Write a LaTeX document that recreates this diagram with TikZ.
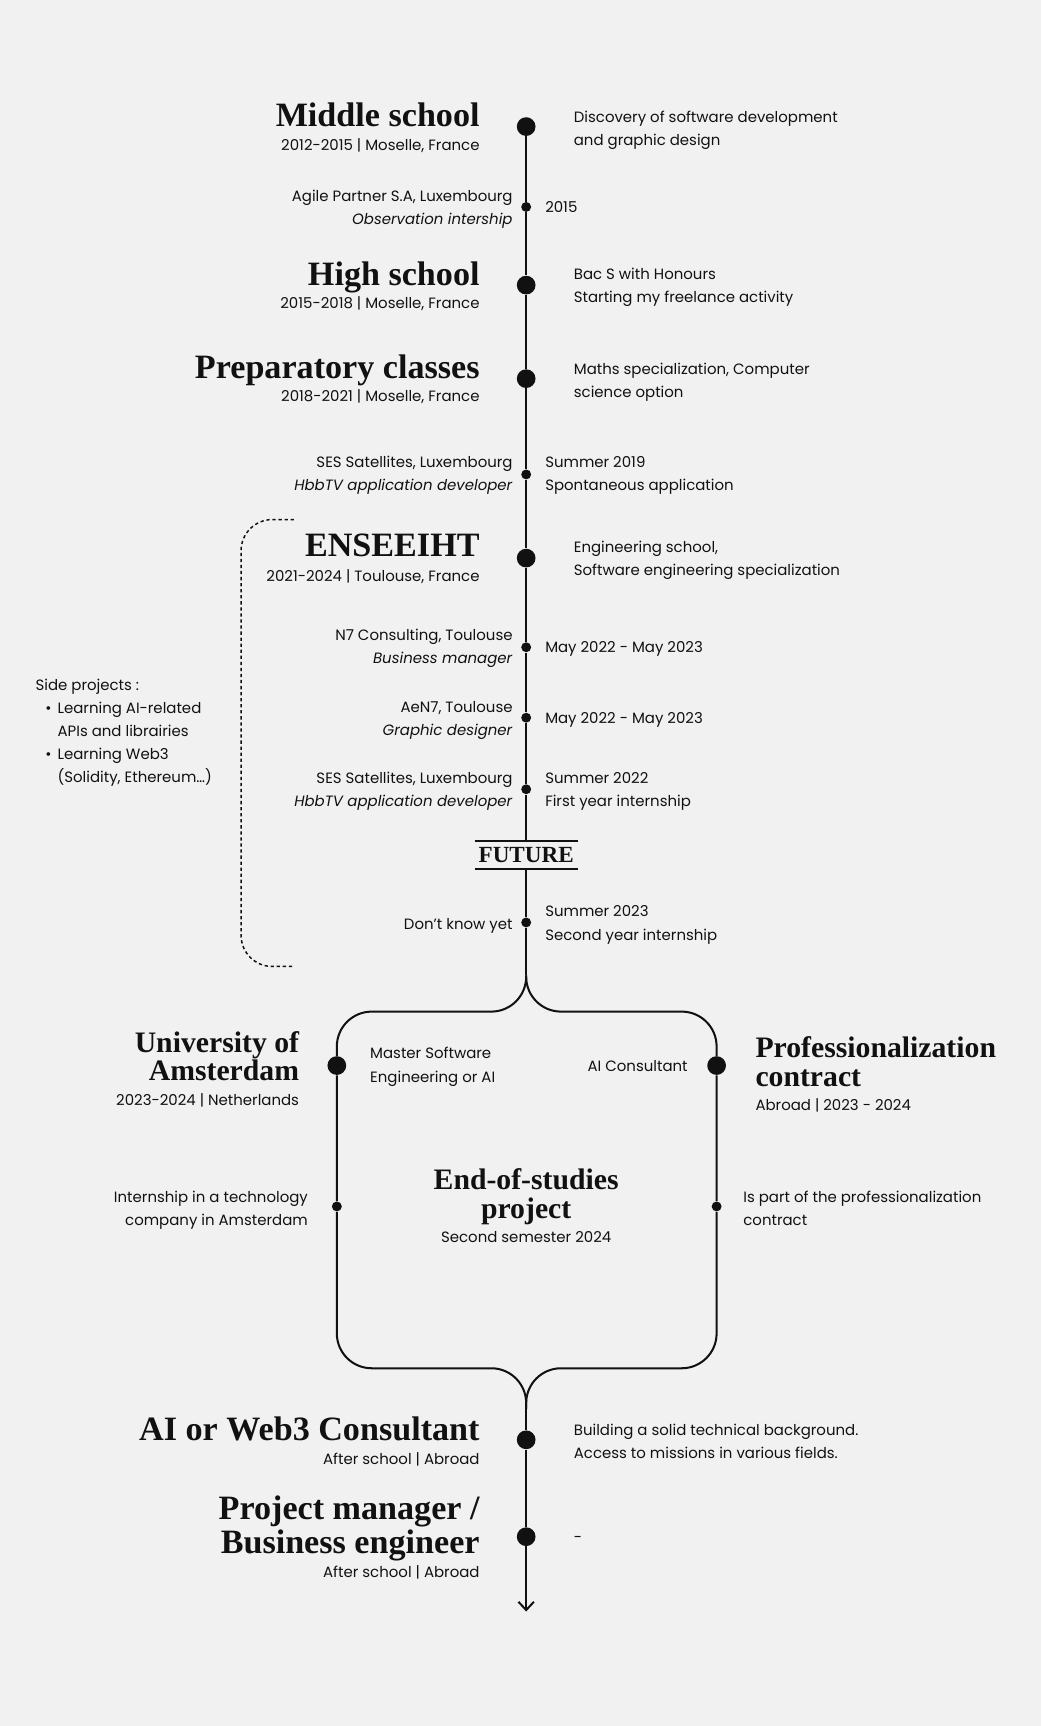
\documentclass[tikz,border=0pt]{standalone}
\usepackage{fontspec}
\setmainfont{Poppins}
\newfontfamily\headfont{Liberation Serif}
\usetikzlibrary{positioning, arrows.meta}

\definecolor{paper}{HTML}{F1F1F1}
\definecolor{ink}{HTML}{111111}

\tikzset{
    head/.style    = {font=\headfont\bfseries\fontsize{18.6}{18.6}\selectfont, text=ink, inner sep=0pt, align=right},
    midhead/.style = {font=\headfont\bfseries\fontsize{16.2}{15.6}\selectfont, text=ink, inner sep=0pt},
    sub/.style     = {font=\fontsize{8.15}{12.6}\selectfont, text=ink, inner sep=0pt},
    info/.style    = {font=\fontsize{8.15}{12.6}\selectfont, text=ink, inner sep=0pt, align=left},
    infol/.style   = {info, align=right},
    bigdot/.style  = {circle, fill=ink, inner sep=0pt, minimum size=10.2pt},
    smalldot/.style= {circle, fill=ink, inner sep=0pt, minimum size=5.4pt},
    future/.style  = {font=\headfont\bfseries\fontsize{12.6}{12.6}\selectfont, text=ink, inner sep=0pt,
                      minimum width=55.8pt, minimum height=15pt},
    axis/.style    = {draw=ink, line width=1.1pt},
    bracket/.style = {draw=ink, line width=0.8pt, dash pattern=on 1.8pt off 1.5pt},
}

\begin{document}
\begin{tikzpicture}[x=0.6pt, y=-0.6pt]
    \fill[paper] (0,0) rectangle (946,1568);

    % timeline points
    \node[bigdot]   (ms)    at (478,115)  {};
    \node[smalldot] (ap)    at (478,188)  {};
    \node[bigdot]   (hs)    at (478,259)  {};
    \node[bigdot]   (pc)    at (478,344)  {};
    \node[smalldot] (ses1)  at (478,431)  {};
    \node[bigdot]   (en)    at (478,507)  {};
    \node[smalldot] (n7)    at (478,588)  {};
    \node[smalldot] (aen)   at (478,652)  {};
    \node[smalldot] (ses2)  at (478,717)  {};
    \node[future]   (fut)   at (478,777)  {FUTURE};
    \node[smalldot] (dky)   at (478,838)  {};
    \coordinate     (split) at (478,886);
    \coordinate     (boxtl) at (306,919);
    \coordinate     (boxtr) at (651,919);
    \node[bigdot]   (uva)   at (306,968)  {};
    \node[smalldot] (uvi)   at (306,1096) {};
    \node[bigdot]   (pro)   at (651,968)  {};
    \node[smalldot] (proi)  at (651,1096) {};
    \coordinate     (boxbl) at (306,1243);
    \coordinate     (boxbr) at (651,1243);
    \coordinate     (merge) at (478,1280);
    \node[bigdot]   (aic)   at (478,1308) {};
    \node[bigdot]   (pm)    at (478,1396) {};
    \coordinate     (end)   at (478,1464);

    \draw[axis] (ms) -- (ap) -- (hs) -- (pc) -- (ses1) -- (en) -- (n7) -- (aen) -- (ses2) -- (fut);
    \draw[axis] (fut.north west) -- (fut.north east);
    \draw[axis] (fut.south west) -- (fut.south east);
    \draw[axis] (fut) -- (dky) -- (split);
    \draw[axis, rounded corners=19pt] (split) |- (boxtl) -- (uva) -- (uvi) -- (boxbl) -| (merge);
    \draw[axis, rounded corners=19pt] (split) |- (boxtr) -- (pro) -- (proi) -- (boxbr) -| (merge);
    \draw[axis] (merge) -- (aic) -- (pm);
    \draw[axis, -{Straight Barb[length=4.5pt, width=8.4pt]}] (pm) -- (end);

    % side projects bracket
    \coordinate (brt) at (267,472);
    \coordinate (brl) at (219,675);
    \coordinate (brb) at (267,878);
    \draw[bracket, rounded corners=17pt] (brt) -| (brl) |- (brb);

    % texts (multi-line nodes sit on the baseline of their last line)
    \node[head, anchor=base east]  (ms-t)   at (436,115)  {Middle school};
    \node[sub, anchor=base east]   (ms-s)   at (436,137)  {2012-2015 | Moselle, France};
    \node[info, anchor=base west]  (ms-i)   at (521,132)  {Discovery of software development\\and graphic design};

    \node[infol, anchor=base east] (ap-l)   at (466,204)  {Agile Partner S.A, Luxembourg\\\textit{Observation intership}};
    \node[info, anchor=base west]  (ap-r)   at (495,193)  {2015};

    \node[head, anchor=base east]  (hs-t)   at (436,259)  {High school};
    \node[sub, anchor=base east]   (hs-s)   at (436,280)  {2015-2018 | Moselle, France};
    \node[info, anchor=base west]  (hs-i)   at (521,275)  {Bac S with Honours\\Starting my freelance activity};

    \node[head, anchor=base east]  (pc-t)   at (436,344)  {Preparatory classes};
    \node[sub, anchor=base east]   (pc-s)   at (436,365)  {2018-2021 | Moselle, France};
    \node[info, anchor=base west]  (pc-i)   at (521,361)  {Maths specialization, Computer\\science option};

    \node[infol, anchor=base east] (ses1-l) at (466,446)  {SES Satellites, Luxembourg\\\textit{HbbTV application developer}};
    \node[info, anchor=base west]  (ses1-r) at (495,446)  {Summer 2019\\Spontaneous application};

    \node[head, anchor=base east]  (en-t)   at (436,506)  {ENSEEIHT};
    \node[sub, anchor=base east]   (en-s)   at (436,528)  {2021-2024 | Toulouse, France};
    \node[info, anchor=base west]  (en-i)   at (521,523)  {Engineering school,\\Software engineering specialization};

    \node[infol, anchor=base east] (n7-l)   at (466,603)  {N7 Consulting, Toulouse\\\textit{Business manager}};
    \node[info, anchor=base west]  (n7-r)   at (495,593)  {May 2022 - May 2023};

    \node[infol, anchor=base east] (aen-l)  at (466,668)  {AeN7, Toulouse\\\textit{Graphic designer}};
    \node[info, anchor=base west]  (aen-r)  at (495,657)  {May 2022 - May 2023};

    \node[infol, anchor=base east] (ses2-l) at (466,733)  {SES Satellites, Luxembourg\\\textit{HbbTV application developer}};
    \node[info, anchor=base west]  (ses2-r) at (495,733)  {Summer 2022\\First year internship};

    \node[infol, anchor=base east] (dky-l)  at (466,844)  {Don’t know yet};
    \node[info, anchor=base west]  (dky-r)  at (495,854)  {Summer 2023\\Second year internship};

    \node[info, anchor=base west]  (side)   at (32,711)   {Side projects :\\
        \hspace*{5.4pt}\makebox[6.6pt][l]{•}Learning AI-related\\
        \hspace*{12pt}APIs and librairies\\
        \hspace*{5.4pt}\makebox[6.6pt][l]{•}Learning Web3\\
        \hspace*{12pt}(Solidity, Ethereum…)};

    \node[midhead, align=right, anchor=base east] (uva-t) at (272,982)  {University of\\Amsterdam};
    \node[sub, anchor=base east]   (uva-s)  at (272,1004) {2023-2024 | Netherlands};
    \node[info, anchor=base west]  (uva-i)  at (336,983)  {Master Software\\Engineering or AI};
    \node[infol, anchor=base east] (uvi-l)  at (280,1113) {Internship in a technology\\company in Amsterdam};

    \node[midhead, align=left, anchor=base west] (pro-t) at (686,987) {Professionalization\\contract};
    \node[sub, anchor=base west]   (pro-s)  at (686,1009) {Abroad | 2023 - 2024};
    \node[infol, anchor=base east] (pro-i)  at (625,973)  {AI Consultant};
    \node[info, anchor=base west]  (proi-r) at (675,1113) {Is part of the professionalization\\contract};

    \node[midhead, align=center, anchor=base] (efs-t) at (478,1107) {End-of-studies\\project};
    \node[sub, anchor=base]        (efs-s)  at (478,1129) {Second semester 2024};

    \node[head, anchor=base east]  (aic-t)  at (436,1309) {AI or Web3 Consultant};
    \node[sub, anchor=base east]   (aic-s)  at (436,1330) {After school | Abroad};
    \node[info, anchor=base west]  (aic-i)  at (521,1325) {Building a solid technical background.\\Access to missions in various fields.};

    \node[head, anchor=base east]  (pm-t)   at (436,1411) {Project manager /\\Business engineer};
    \node[sub, anchor=base east]   (pm-s)   at (436,1433) {After school | Abroad};
    \node[info, anchor=base west]  (pm-i)   at (521,1401) {-};
\end{tikzpicture}
\end{document}
